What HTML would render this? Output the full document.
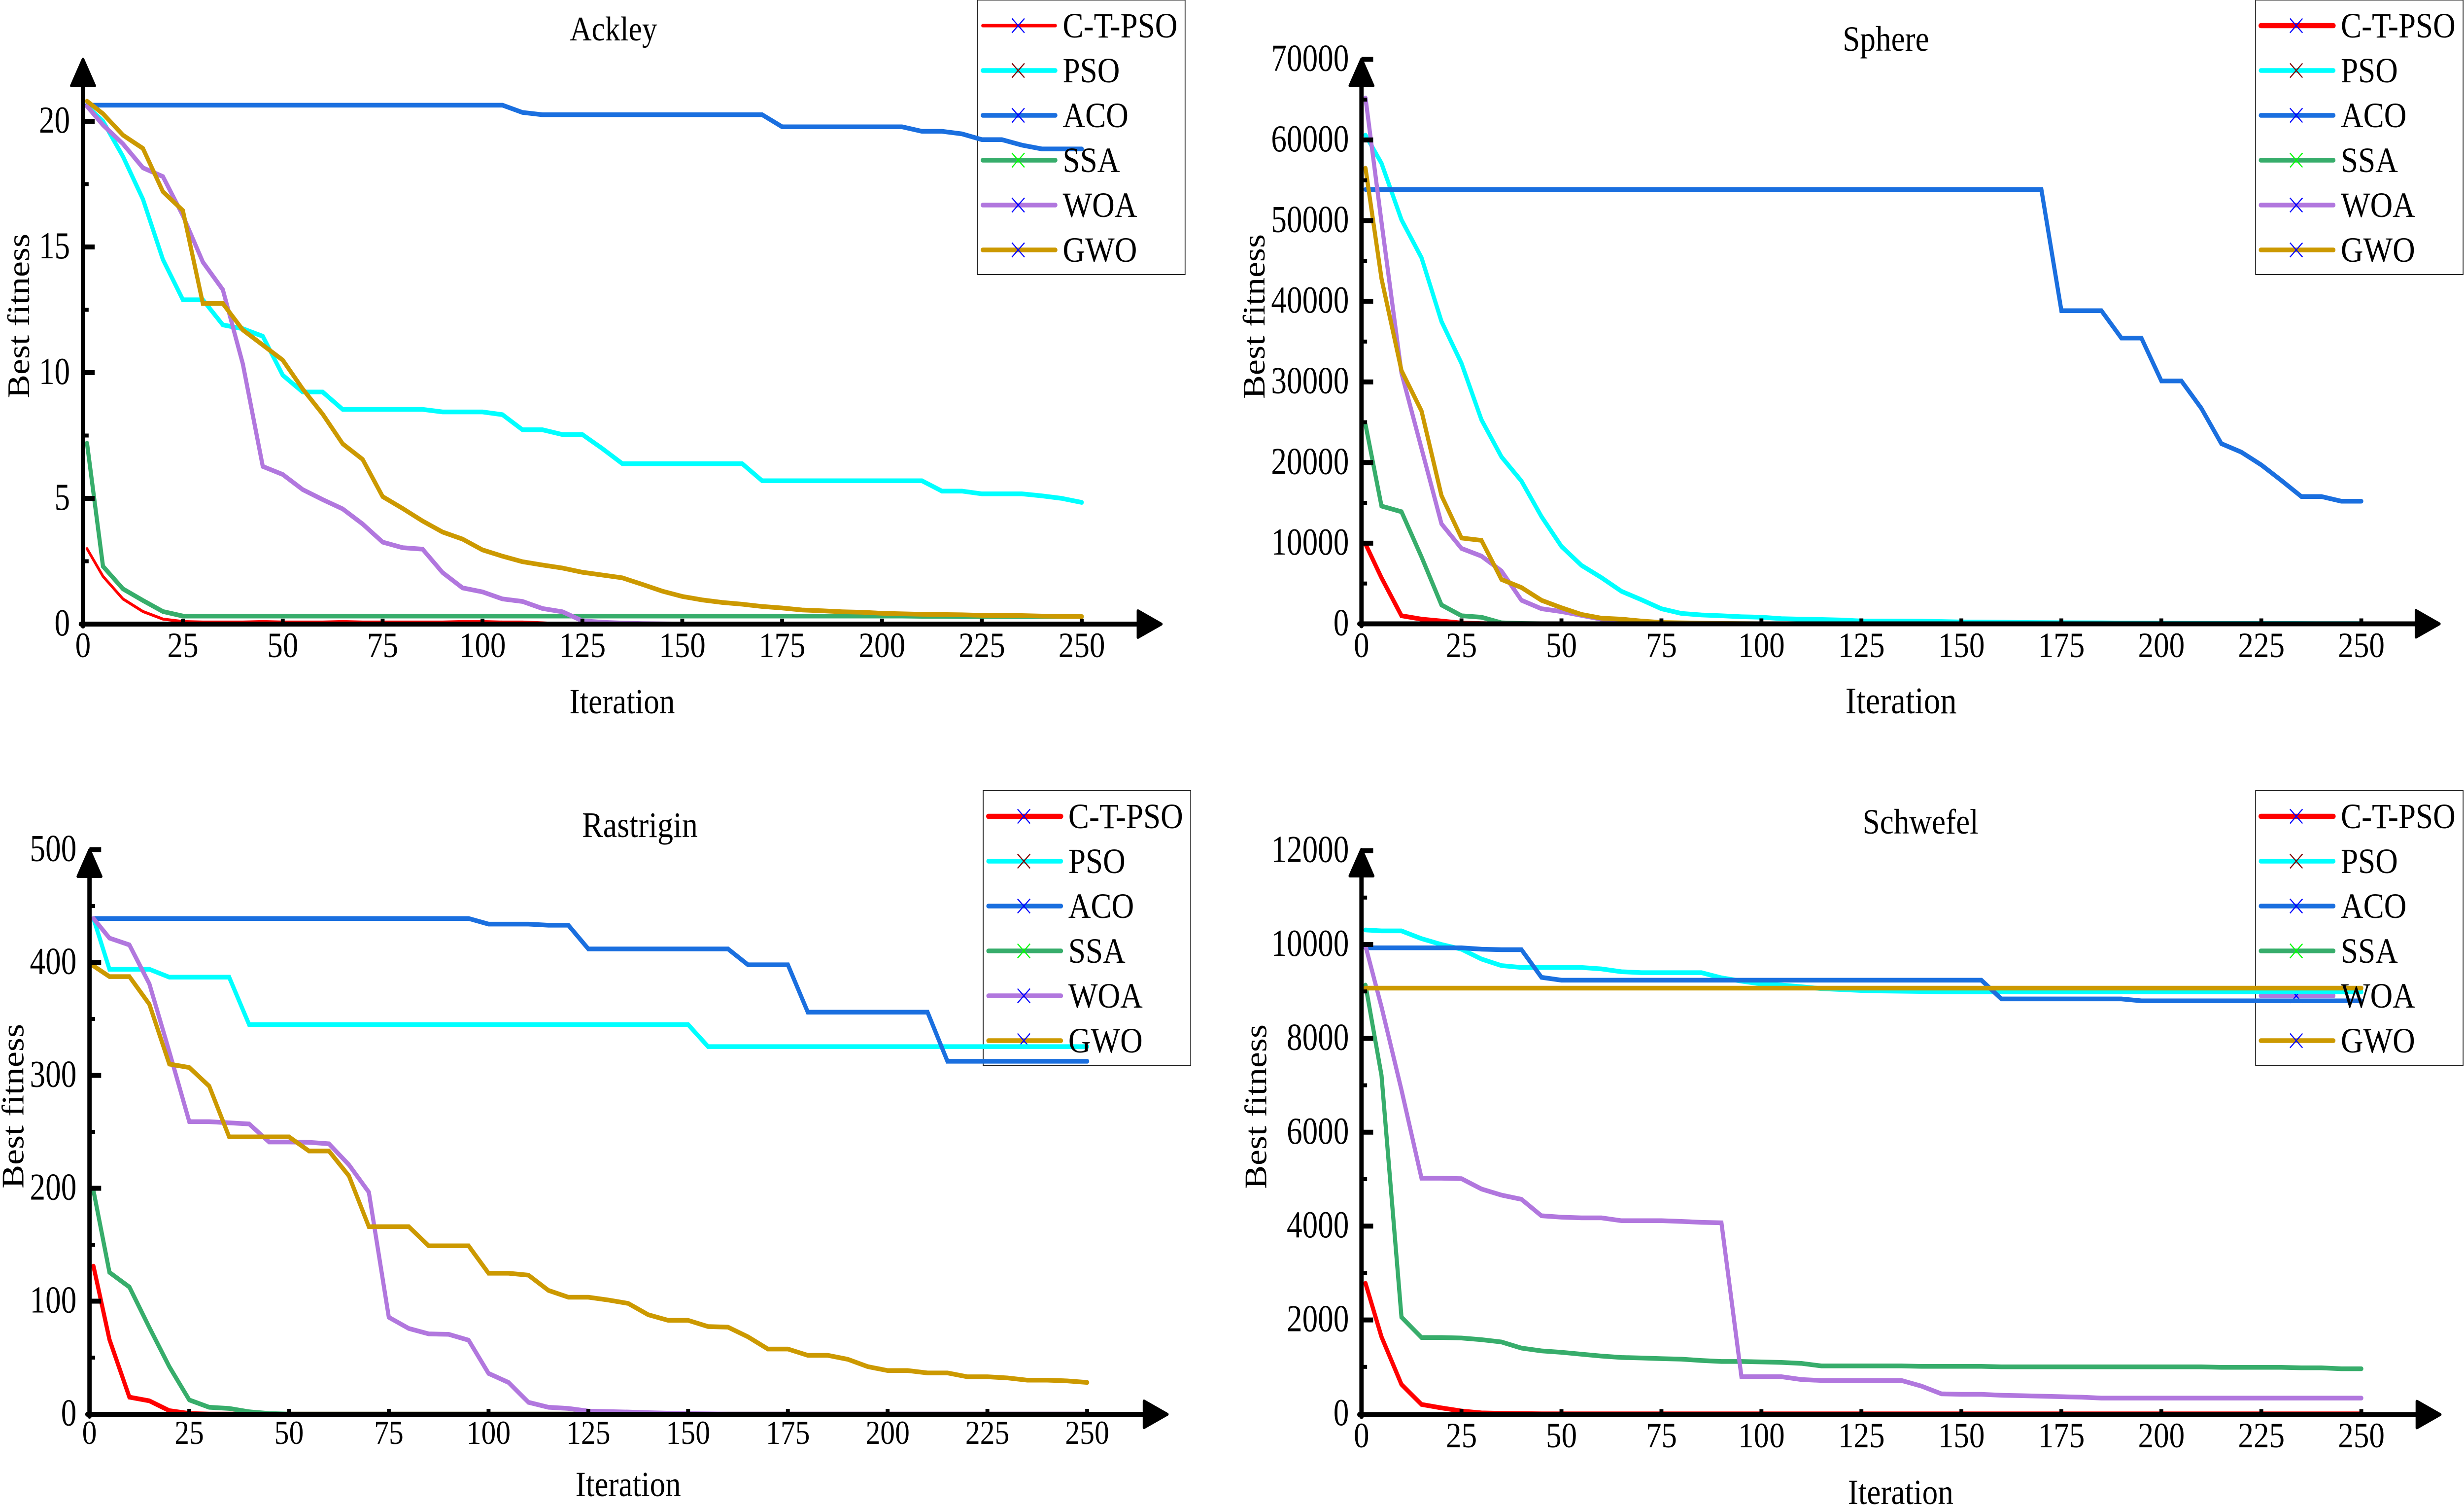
<!DOCTYPE html>
<html lang="en">
<head>
<meta charset="utf-8">
<title>Convergence curves: Ackley, Sphere, Rastrigin, Schwefel</title>
<style>
html,body{margin:0;padding:0;background:#fff;width:100%;height:100%;overflow:hidden}
svg{display:block;width:100vw;height:100vh}
text{font-family:"Liberation Serif","Times New Roman",serif;fill:#000}
</style>
</head>
<body>
<svg id="figure" xmlns="http://www.w3.org/2000/svg" viewBox="0 0 5699 3053" preserveAspectRatio="none">
<rect x="0" y="0" width="5699" height="3053" fill="#ffffff"/>

<g id="panel-ackley">
<text x="1419" y="82" font-size="70" text-anchor="middle">Ackley</text>
<text x="1439" y="1447" font-size="72" text-anchor="middle">Iteration</text>
<text transform="translate(67 641) rotate(-90)" font-size="72" text-anchor="middle">Best fitness</text>
</g>

<g id="panel-sphere">
<text x="4362" y="103" font-size="72" text-anchor="middle">Sphere</text>
<text x="4397" y="1447" font-size="76" text-anchor="middle">Iteration</text>
<text transform="translate(2925 642) rotate(-90)" font-size="72" text-anchor="middle">Best fitness</text>
</g>

<g id="panel-rastrigin">
<text x="1480" y="1698" font-size="73" text-anchor="middle">Rastrigin</text>
<text x="1453" y="3035" font-size="72" text-anchor="middle">Iteration</text>
<text transform="translate(54 2244) rotate(-90)" font-size="72" text-anchor="middle">Best fitness</text>
</g>

<g id="panel-schwefel">
<text x="4442" y="1691" font-size="72" text-anchor="middle">Schwefel</text>
<text x="4396" y="3051" font-size="72" text-anchor="middle">Iteration</text>
<text transform="translate(2929 2245) rotate(-90)" font-size="72" text-anchor="middle">Best fitness</text>
</g>
</svg>

<script>
// Shared category data
const iterations = [1,5,10,15,20,25,30,35,40,45,
  50,55,60,65,70,75,80,85,90,95,
  100,105,110,115,120,125,130,135,140,145,
  150,155,160,165,170,175,180,185,190,195,
  200,205,210,215,220,225,230,235,240,245,
  250];
const algorithmNames = ['C-T-PSO','PSO','ACO','SSA','WOA','GWO'];
const xTickLabels = [0,25,50,75,100,125,150,175,200,225,250];

// Ackley
const ackleyYTicks = [0,5,10,15,20];
const ackleyCtPso = [3.0,1.9,1.0,.5,.2,.1,.08,.08,.08,.1,
  .08,.08,.08,.1,.08,.08,.08,.08,.08,.1,
  .1,.08,.08,.05,.01,0,0,0,0,0,
  0,0,0,0,0,0,0,0,0,0,
  0,0,0,0,0,0,0,0,0,0,
  0];
const ackleyPso = [20.6,20,18.6,16.9,14.5,12.9,12.9,11.9,11.75,11.45,
  9.9,9.23,9.23,8.54,8.54,8.54,8.54,8.54,8.44,8.44,
  8.44,8.33,7.73,7.73,7.54,7.54,6.98,6.38,6.38,6.38,
  6.38,6.38,6.38,6.38,5.7,5.7,5.7,5.7,5.7,5.7,
  5.7,5.7,5.7,5.29,5.29,5.18,5.18,5.18,5.1,5.0,
  4.84];
const ackleyAco = [20.64,20.64,20.64,20.64,20.64,20.64,20.64,20.64,20.64,20.64,
  20.64,20.64,20.64,20.64,20.64,20.64,20.64,20.64,20.64,20.64,
  20.64,20.64,20.35,20.26,20.26,20.26,20.26,20.26,20.26,20.26,
  20.26,20.26,20.26,20.26,20.26,19.78,19.78,19.78,19.78,19.78,
  19.78,19.78,19.6,19.6,19.5,19.27,19.27,19.05,18.9,18.9,
  18.9];
const ackleySsa = [7.2,2.3,1.4,.94,.5,.32,.32,.32,.32,.32,
  .32,.32,.32,.32,.32,.32,.32,.32,.32,.32,
  .32,.32,.32,.32,.32,.32,.32,.32,.32,.32,
  .32,.32,.32,.32,.32,.32,.32,.32,.32,.32,
  .32,.32,.31,.31,.3,.3,.3,.3,.3,.3,
  .3];
const ackleyWoa = [20.6,19.85,19.1,18.15,17.8,16.25,14.4,13.3,10.35,6.27,
  5.95,5.35,4.95,4.58,3.98,3.26,3.04,2.98,2.05,1.44,
  1.28,1.0,.9,.62,.49,.13,.07,.04,.02,.01,
  0,0,0,0,0,0,0,0,0,0,
  0,0,0,0,0,0,0,0,0,0,
  0];
const ackleyGwo = [20.8,20.3,19.45,18.92,17.2,16.45,12.75,12.75,11.7,11.1,
  10.5,9.35,8.35,7.17,6.55,5.07,4.6,4.1,3.66,3.38,
  2.95,2.7,2.48,2.35,2.23,2.06,1.95,1.84,1.58,1.31,
  1.1,.96,.86,.79,.7,.64,.56,.53,.49,.47,
  .43,.41,.39,.38,.37,.35,.34,.34,.32,.31,
  .3];

// Sphere
const sphereYTicks = [0,10000,20000,30000,40000,50000,60000,70000];
const sphereCtPso = [9900,5700,1000,580,350,100,30,0,0,0,
  0,0,0,0,0,0,0,0,0,0,
  0,0,0,0,0,0,0,0,0,0,
  0,0,0,0,0,0,0,0,0,0,
  0,0,0,0,0,0,0,0,0,0,
  0];
const spherePso = [60600,57100,50100,45400,37500,32300,25300,20700,17700,13300,
  9600,7250,5730,4035,2980,1870,1290,1100,1000,880,
  820,640,580,530,470,350,350,340,330,280,
  230,220,200,170,150,140,130,120,100,90,
  80,70,60,55,50,45,40,35,30,30,
  30];
const sphereAco = [53860,53860,53860,53860,53860,53860,53860,53860,53860,53860,
  53860,53860,53860,53860,53860,53860,53860,53860,53860,53860,
  53860,53860,53860,53860,53860,53860,53860,53860,53860,53860,
  53860,53860,53860,53860,53860,38830,38830,38830,35440,35440,
  30120,30120,26725,22340,21290,19700,17780,15790,15790,15200,
  15200];
const sphereSsa = [24700,14600,13900,8300,2340,1000,820,120,50,20,
  0,0,0,0,0,0,0,0,0,0,
  0,0,0,0,0,0,0,0,0,0,
  0,0,0,0,0,0,0,0,0,0,
  0,0,0,0,0,0,0,0,0,0,
  0];
const sphereWoa = [65200,49800,31100,21750,12400,9350,8400,6550,2920,1870,
  1520,1050,580,350,230,120,80,50,30,20,
  10,0,0,0,0,0,0,0,0,0,
  0,0,0,0,0,0,0,0,0,0,
  0,0,0,0,0,0,0,0,0,0,
  0];
const sphereGwo = [56500,42800,31400,26400,15900,10640,10350,5500,4500,2920,
  1990,1170,700,580,350,170,120,80,50,30,
  20,0,0,0,0,0,0,0,0,0,
  0,0,0,0,0,0,0,0,0,0,
  0,0,0,0,0,0,0,0,0,0,
  0];

// Rastrigin
const rastriginYTicks = [0,100,200,300,400,500];
const rastriginCtPso = [131,66,15,11.7,3,.5,0,0,0,0,
  0,0,0,0,0,0,0,0,0,0,
  0,0,0,0,0,0,0,0,0,0,
  0,0,0,0,0,0,0,0,0,0,
  0,0,0,0,0,0,0,0,0,0,
  0];
const rastriginPso = [439,394,394,394,387,387,387,387,345,345,
  345,345,345,345,345,345,345,345,345,345,
  345,345,345,345,345,345,345,345,345,345,
  345,325.5,325.5,325.5,325.5,325.5,325.5,325.5,325.5,325.5,
  325.5,325.5,325.5,325.5,325.5,325.5,325.5,325.5,325.5,325.5,
  325.5];
const rastriginAco = [439,439,439,439,439,439,439,439,439,439,
  439,439,439,439,439,439,439,439,439,439,
  434,434,434,433,433,412,412,412,412,412,
  412,412,412,398,398,398,356,356,356,356,
  356,356,356,312.5,312.5,312.5,312.5,312.5,312.5,312.5,
  312.5];
const rastriginSsa = [198,125.5,112.5,76.6,42,12.5,6,5,2,.5,
  0,0,0,0,0,0,0,0,0,0,
  0,0,0,0,0,0,0,0,0,0,
  0,0,0,0,0,0,0,0,0,0,
  0,0,0,0,0,0,0,0,0,0,
  0];
const rastriginWoa = [439,421.6,415.6,381,321,259,259,258,257,241,
  241,240.7,239.4,220.8,196.5,85.7,75.8,71,70.6,65.4,
  36,28,10.4,6,5,2.6,2.2,1.8,1.2,.8,
  .4,.2,0,0,0,0,0,0,0,0,
  0,0,0,0,0,0,0,0,0,0,
  0];
const rastriginGwo = [397,387.5,387.5,363,310,307,290.5,245.5,245.5,245.5,
  245.5,233,233,211,166,166,166,149,149,149,
  124.7,124.7,123,109.5,103.5,103.5,101,98,88,83,
  83,77.5,77,68.4,57.6,57.6,52,52,48.5,42,
  38.5,38.5,36.4,36.4,33,33,32,30,30,29.4,
  28];

// Schwefel
const schwefelYTicks = [0,2000,4000,6000,8000,10000,12000];
const schwefelCtPso = [2780,1640,625,200,125,60,20,10,5,0,
  0,0,0,0,0,0,0,0,0,0,
  0,0,0,0,0,0,0,0,0,0,
  0,0,0,0,0,0,0,0,0,0,
  0,0,0,0,0,0,0,0,0,0,
  0];
const schwefelPso = [10310,10290,10290,10125,10000,9900,9690,9550,9510,9510,
  9510,9510,9480,9420,9400,9400,9400,9400,9290,9220,
  9160,9135,9100,9060,9040,9020,9010,9005,9000,8990,
  8990,8990,8990,8990,8990,8990,8990,8990,8990,8990,
  8990,8990,8990,8990,8990,8990,8990,8990,8990,8990,
  8990];
const schwefelAco = [9930,9930,9930,9930,9930,9930,9900,9890,9890,9300,
  9240,9240,9240,9240,9240,9240,9240,9240,9240,9240,
  9240,9240,9240,9240,9240,9240,9240,9240,9240,9240,
  9240,9240,8840,8840,8840,8840,8840,8840,8840,8800,
  8800,8800,8800,8800,8800,8800,8800,8800,8800,8800,
  8800];
const schwefelSsa = [9135,7210,2060,1625,1625,1615,1580,1530,1400,1340,
  1310,1270,1230,1200,1190,1175,1165,1135,1115,1115,
  1105,1095,1075,1020,1020,1020,1020,1020,1010,1010,
  1010,1010,1000,1000,1000,1000,1000,1000,1000,1000,
  1000,1000,1000,990,990,990,990,980,980,960,
  960];
const schwefelWoa = [9970,8670,6900,5020,5020,5010,4790,4660,4570,4220,
  4190,4175,4175,4115,4115,4115,4100,4080,4070,790,
  790,790,730,710,710,710,710,710,590,425,
  415,415,395,385,375,365,355,335,335,335,
  335,335,335,335,335,335,335,335,335,335,
  335];
const schwefelGwo = [9070,9070,9070,9070,9070,9070,9070,9070,9070,9070,
  9070,9070,9070,9070,9070,9070,9070,9070,9070,9070,
  9070,9070,9070,9070,9070,9070,9070,9070,9070,9070,
  9070,9070,9070,9070,9070,9070,9070,9070,9070,9070,
  9070,9070,9070,9070,9070,9070,9070,9070,9070,9070,
  9070];

// Appearance
const seriesColors = ['#ff0000','#00ffff','#1a6fdf','#37ad6b','#b177de','#cc9900'];
const markerColors = ['#0000ff','#800000','#0000ff','#00ff00','#0000ff','#0000ff'];

const SVG_NS = 'http://www.w3.org/2000/svg';
function make(tag, parent, attrs, text) {
  const node = document.createElementNS(SVG_NS, tag);
  for (const key in attrs) node.setAttribute(key, attrs[key]);
  if (text !== undefined) node.textContent = text;
  parent.appendChild(node);
  return node;
}

function drawPanel(p) {
  const root = document.getElementById(p.id);
  const xScale = function (iter) { return p.x0 + iter * p.xPerIter; };
  const yScale = function (value) { return p.y0 - value * p.yPerUnit; };
  const axisY = p.axisY;

  // Legend frame
  let box = make('rect', root, {x: p.legendX, y: p.legendY, width: 480, height: 557, fill: 'none', stroke: '#222', 'stroke-width': 2});
  
  

  // Legend samples
  algorithmNames.forEach(function (name, i) {
    const ly = p.legendY + 52 + 91 * i;
    const lx = p.legendX + 8;
    const sample = make('line', root, {x1: lx + 4, x2: lx + 172, y1: ly, y2: ly, stroke: seriesColors[i],
      'stroke-width': i === 0 ? p.redWidth + 1 : 9.5, 'stroke-linecap': 'round'});
    
    
    const mx = lx + 86;
    const cross = make('path', root, {
      d: 'M' + (mx - 14.5) + ' ' + (ly - 14.5) + 'L' + (mx + 14.5) + ' ' + (ly + 14.5) + 'M' + (mx - 14.5) + ' ' + (ly + 14.5) + 'L' + (mx + 14.5) + ' ' + (ly - 14.5),
      fill: 'none', stroke: markerColors[i], 'stroke-width': 2.5});
    
    
  });

  // Series (axes are painted afterwards, so zero-valued runs hide under the axis)
  p.series.forEach(function (values, i) {
    const points = values.map(function (value, k) {
      return xScale(iterations[k]).toFixed(1) + ',' + yScale(value).toFixed(1);
    }).join(' ');
    const line = make('polyline', root, {points: points, fill: 'none', stroke: seriesColors[i],
      'stroke-width': i === 0 ? p.redWidth : 9.5, 'stroke-linejoin': 'miter', 'stroke-linecap': 'round'});
    
    
  });

  // Axis ticks
  const step = p.yTicks[1] - p.yTicks[0];
  p.yTicks.forEach(function (tick, i) {
    const ty = yScale(tick);
    if (tick > 0) {
      const major = make('line', root, {x1: p.x0, x2: p.x0 + 27, y1: ty, y2: ty, stroke: '#000', 'stroke-width': 10});
      
      
    }
    const minorY = yScale(tick + step / 2);
    if (i < p.yTicks.length - 1 && minorY > p.arrowTop + 60) {
      const minor = make('line', root, {x1: p.x0, x2: p.x0 + 13, y1: minorY, y2: minorY, stroke: '#000', 'stroke-width': 8});
      
      
    }
    const label = make('text', root, {transform: 'translate(' + p.yLabelX + ' ' + (ty + 23) + ') scale(1 1.07)', 'font-size': 72, 'text-anchor': 'end'}, String(tick));
    
    
  });
  xTickLabels.forEach(function (tick) {
    const tx = xScale(tick);
    const mark = make('line', root, {x1: tx, x2: tx, y1: axisY, y2: axisY - 11, stroke: '#000', 'stroke-width': 9});
    
    
    const label = make('text', root, {x: tx, y: p.xLabelY, 'font-size': p.xLabelSize, 'text-anchor': 'middle'}, String(tick));
    
    
  });

  // Axes and arrowheads
  const xAxis = make('line', root, {x1: p.x0 - 5, x2: p.arrowRight - 58, y1: axisY, y2: axisY, stroke: '#000', 'stroke-width': 10, 'stroke-linecap': 'round'});
  
  
  const yAxis = make('line', root, {x1: p.x0, x2: p.x0, y1: axisY + 4, y2: p.arrowTop + 58, stroke: '#000', 'stroke-width': 10, 'stroke-linecap': 'round'});
  
  
  const upHead = make('polygon', root, {
    points: [[p.x0, p.arrowTop + 4], [p.x0 + 27, p.arrowTop + 58], [p.x0 - 27, p.arrowTop + 58]].join(' '),
    fill: '#000', stroke: '#000', 'stroke-width': 6, 'stroke-linejoin': 'round'});
  
  
  const rightHead = make('polygon', root, {
    points: [[p.arrowRight - 4, axisY], [p.arrowRight - 58, axisY + 27], [p.arrowRight - 58, axisY - 27]].join(' '),
    fill: '#000', stroke: '#000', 'stroke-width': 6, 'stroke-linejoin': 'round'});
  
  

  // Legend labels
  algorithmNames.forEach(function (name, i) {
    const label = make('text', root, {x: p.legendX + 197, y: p.legendY + 52 + 91 * i + 24, 'font-size': 72}, name);
    
    
  });
}

drawPanel({id: 'panel-ackley', key: 'ackley', x0: 192, xPerIter: 9.24, y0: 1266, yPerUnit: 51, axisY: 1266,
  arrowTop: 116, arrowRight: 2690, yLabelX: 162, xLabelY: 1333, xLabelSize: 72, legendX: 2261, legendY: 0, redWidth: 6,
  yTicks: ackleyYTicks, series: [ackleyCtPso, ackleyPso, ackleyAco, ackleySsa, ackleyWoa, ackleyGwo]});
drawPanel({id: 'panel-sphere', key: 'sphere', x0: 3149, xPerIter: 9.25, y0: 1265.5, yPerUnit: 0.01636, axisY: 1265.5,
  arrowTop: 116, arrowRight: 5646, yLabelX: 3120, xLabelY: 1333, xLabelSize: 72, legendX: 5217, legendY: 0, redWidth: 9.5,
  yTicks: sphereYTicks, series: [sphereCtPso, spherePso, sphereAco, sphereSsa, sphereWoa, sphereGwo]});
drawPanel({id: 'panel-rastrigin', key: 'rastrigin', x0: 207, xPerIter: 9.23, y0: 2868.5, yPerUnit: 2.29, axisY: 2869,
  arrowTop: 1720, arrowRight: 2704, yLabelX: 177, xLabelY: 2929, xLabelSize: 68, legendX: 2274, legendY: 1604, redWidth: 9.5,
  yTicks: rastriginYTicks, series: [rastriginCtPso, rastriginPso, rastriginAco, rastriginSsa, rastriginWoa, rastriginGwo]});
drawPanel({id: 'panel-schwefel', key: 'schwefel', x0: 3149, xPerIter: 9.25, y0: 2868, yPerUnit: 0.0952, axisY: 2869.5,
  arrowTop: 1719, arrowRight: 5648, yLabelX: 3120, xLabelY: 2936, xLabelSize: 72, legendX: 5217, legendY: 1604, redWidth: 9.5,
  yTicks: schwefelYTicks, series: [schwefelCtPso, schwefelPso, schwefelAco, schwefelSsa, schwefelWoa, schwefelGwo]});
</script>
</body>
</html>
